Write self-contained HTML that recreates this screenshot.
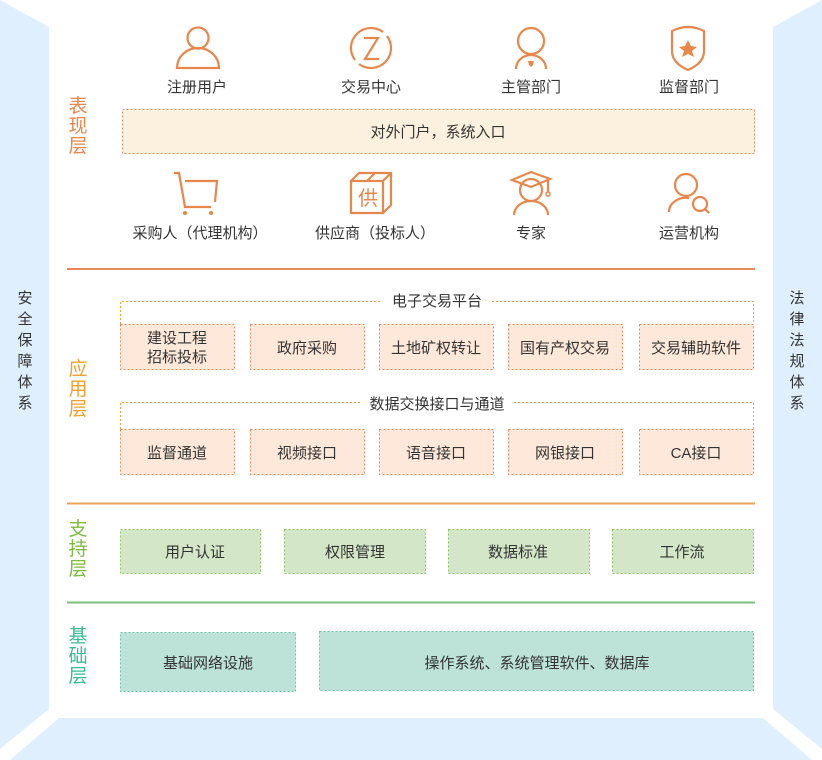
<!DOCTYPE html>
<html><head><meta charset="utf-8"><style>
html,body{margin:0;padding:0;background:#fff;}
svg{display:block;}
text{font-family:"Liberation Sans","Noto Sans CJK SC",sans-serif;}
</style></head><body>
<svg width="822" height="760" viewBox="0 0 822 760" xmlns="http://www.w3.org/2000/svg">
<rect width="822" height="760" fill="#fff"/>
<g fill="#e0effd">
<polygon points="0,0 49,27 49,709 0,749"/>
<polygon points="822,0 773,27 773,709 822,749"/>
<polygon points="59,718 763,718 812,760 10,760"/>
</g>
<g font-size="15" fill="#333" text-anchor="middle">
<text x="25" y="303">安</text><text x="25" y="324">全</text><text x="25" y="345">保</text><text x="25" y="366">障</text><text x="25" y="387">体</text><text x="25" y="408">系</text>
<text x="797" y="303">法</text><text x="797" y="324">律</text><text x="797" y="345">法</text><text x="797" y="366">规</text><text x="797" y="387">体</text><text x="797" y="408">系</text>
</g>
<g font-size="19" text-anchor="middle">
<g fill="#e8874c"><text x="78" y="112">表</text><text x="78" y="132">现</text><text x="78" y="152">层</text></g>
<g fill="#f0a030"><text x="78" y="375">应</text><text x="78" y="395">用</text><text x="78" y="415">层</text></g>
<g fill="#7dba3e"><text x="78" y="535">支</text><text x="78" y="555">持</text><text x="78" y="575">层</text></g>
<g fill="#3dbb95"><text x="78" y="642">基</text><text x="78" y="662">础</text><text x="78" y="682">层</text></g>
</g>
<line x1="67" y1="269" x2="755" y2="269" stroke="#e8895a" stroke-width="2"/>
<line x1="67" y1="503.5" x2="755" y2="503.5" stroke="#eaa35a" stroke-width="2"/>
<line x1="67" y1="602.5" x2="755" y2="602.5" stroke="#78c27a" stroke-width="2"/>
<g fill="none" stroke="#e8874c" stroke-width="2.2">
<circle cx="198" cy="38" r="10.5"/>
<path d="M177 68 a21 20 0 0 1 42 0 z"/>
<path d="M383 32 A20 20 0 0 0 355 60"/><path d="M359 64 A20 20 0 0 0 387 36"/>
<path d="M364 38 h14 l-13 21 h14"/>
<circle cx="531" cy="41" r="13"/>
<path d="M516 69 a15 14 0 0 1 30 0"/>
<path d="M672 31 q16 -8 32 0 v20 q0 12 -16 19 q-16 -7 -16 -19z"/>
<path d="M174 173 h5 l6 34 h26"/><path d="M185 181 h32 l-2 21"/>
<path d="M351 181 h32 v32 h-32z M351 181 l8 -8 h32 v32 l-8 8 M383 181 l8 -8 M367 181 l8 -8"/>
<circle cx="531" cy="190" r="11"/><path d="M514 215 a17 14 0 0 1 34 0"/>
<path d="M512 180 l19 -8 l19 7 l-19 8z"/><path d="M548 180 v12"/>
<circle cx="686" cy="185" r="11"/><path d="M669 212 a17 14 0 0 1 20 -14"/>
<circle cx="700" cy="204" r="7"/><path d="M705 209 l4 4"/>
</g>
<path d="M528 61 h6 l-1 4 l-2 2 l-2 -2z" fill="#e8874c"/>
<path d="M688 40 l3 6 l6 1 l-5 4 l2 6 l-6 -3 l-6 3 l2 -6 l-5 -4 l6 -1z" fill="#e8874c"/>
<circle cx="185" cy="213" r="2" fill="#e8874c"/><circle cx="211" cy="213" r="2" fill="#e8874c"/>
<circle cx="548" cy="194" r="2" fill="none" stroke="#e8874c" stroke-width="1.5"/>
<text x="368" y="205" font-size="20" fill="#e8874c" text-anchor="middle">供</text>
<g font-size="15" fill="#333" text-anchor="middle">
<text x="197" y="92">注册用户</text><text x="371" y="92">交易中心</text><text x="531" y="92">主管部门</text><text x="689" y="92">监督部门</text>
<text x="200" y="238">采购人（代理机构）</text><text x="375" y="238">供应商（投标人）</text><text x="531" y="238">专家</text><text x="689" y="238">运营机构</text>
</g>
<rect x="122.5" y="109.5" width="632" height="44" fill="#fcf1de" stroke="#e8895a" stroke-dasharray="2,2"/>
<text x="438" y="137" font-size="15" fill="#333" text-anchor="middle">对外门户，系统入口</text>
<g fill="none" stroke="#f0a040" stroke-dasharray="2,2">
<path d="M120.5 324 V301.5 H382 M492 301.5 H753.5 V324"/>
<path d="M120.5 429 V402.5 H360 M514 402.5 H753.5 V429"/>
</g>
<text x="437" y="306" font-size="15" fill="#333" text-anchor="middle">电子交易平台</text>
<text x="437" y="409" font-size="15" fill="#333" text-anchor="middle">数据交换接口与通道</text>
<g fill="#fde8da" stroke="#e8895a" stroke-dasharray="2,2">
<rect x="120.5" y="324.5" width="114" height="45"/><rect x="250.5" y="324.5" width="114" height="45"/><rect x="379.5" y="324.5" width="114" height="45"/><rect x="508.5" y="324.5" width="114" height="45"/><rect x="639.5" y="324.5" width="114" height="45"/>
<rect x="120.5" y="429.5" width="114" height="45"/><rect x="250.5" y="429.5" width="114" height="45"/><rect x="379.5" y="429.5" width="114" height="45"/><rect x="508.5" y="429.5" width="114" height="45"/><rect x="639.5" y="429.5" width="114" height="45"/>
</g>
<g font-size="15" fill="#333" text-anchor="middle">
<text x="177" y="343">建设工程</text><text x="177" y="362">招标投标</text>
<text x="307" y="353">政府采购</text><text x="436" y="353">土地矿权转让</text><text x="565" y="353">国有产权交易</text><text x="696" y="353">交易辅助软件</text>
<text x="177" y="458">监督通道</text><text x="307" y="458">视频接口</text><text x="436" y="458">语音接口</text><text x="565" y="458">网银接口</text><text x="696" y="458">CA接口</text>
</g>
<g fill="#d3e7c8" stroke="#8cc160" stroke-dasharray="2,2">
<rect x="120.5" y="529.5" width="140" height="44"/><rect x="284.5" y="529.5" width="141" height="44"/><rect x="448.5" y="529.5" width="141" height="44"/><rect x="612.5" y="529.5" width="141" height="44"/>
</g>
<g font-size="15" fill="#333" text-anchor="middle">
<text x="195" y="557">用户认证</text><text x="355" y="557">权限管理</text><text x="518" y="557">数据标准</text><text x="682" y="557">工作流</text>
</g>
<g fill="#bde2d8" stroke="#6cc0a3" stroke-dasharray="2,2">
<rect x="120.5" y="632.5" width="175" height="59"/><rect x="319.5" y="631.5" width="434" height="59"/>
</g>
<g font-size="15" fill="#333" text-anchor="middle">
<text x="208" y="668">基础网络设施</text><text x="537" y="668">操作系统、系统管理软件、数据库</text>
</g>
</svg>
</body></html>
